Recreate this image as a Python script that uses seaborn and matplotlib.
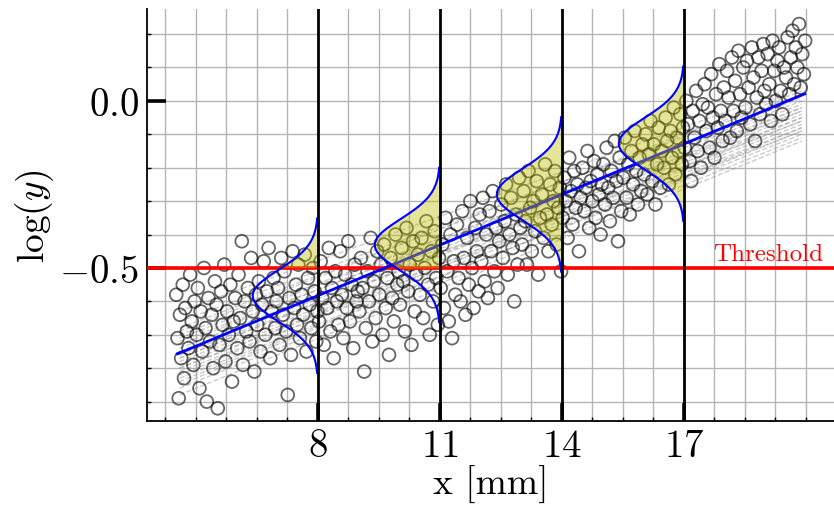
import numpy as np
import pandas as pd
import seaborn as sns
import matplotlib
matplotlib.use('Agg')
import matplotlib.pyplot as plt
from matplotlib.ticker import FixedLocator, MultipleLocator

# measured points (x in mm, log y), read strip by strip from the chart
scatter_x = [
    4.52, 4.55, 4.58, 4.61, 4.64, 4.68, 4.71, 4.74, 4.78, 4.82, 4.86, 4.90, 4.94, 4.97,
    5.02, 5.05, 5.09, 5.12, 5.16, 5.20, 5.24, 5.27, 5.31, 5.35, 5.39, 5.43, 5.47,
    5.51, 5.54, 5.58, 5.62, 5.66, 5.70, 5.73, 5.77, 5.81, 5.85, 5.89, 5.93, 5.97,
    6.02, 6.05, 6.09, 6.13, 6.16, 6.20, 6.24, 6.28, 6.32, 6.36, 6.40, 6.44, 6.48,
    6.51, 6.55, 6.59, 6.63, 6.67, 6.71, 6.75, 6.79, 6.83, 6.87, 6.91, 6.95, 6.98,
    7.02, 7.06, 7.10, 7.14, 7.18, 7.22, 7.26, 7.30, 7.34, 7.38, 7.42, 7.46, 7.49,
    7.52, 7.56, 7.60, 7.64, 7.68, 7.72, 7.76, 7.80, 7.84, 7.88, 7.92, 7.96, 7.99,
    8.03, 8.07, 8.11, 8.15, 8.19, 8.23, 8.27, 8.31, 8.35, 8.39, 8.43, 8.47,
    8.51, 8.55, 8.59, 8.63, 8.67, 8.71, 8.75, 8.79, 8.83, 8.87, 8.91, 8.95, 8.98,
    9.02, 9.06, 9.10, 9.14, 9.18, 9.22, 9.26, 9.30, 9.34, 9.38, 9.42, 9.46,
    9.51, 9.55, 9.59, 9.63, 9.67, 9.71, 9.75, 9.79, 9.83, 9.87, 9.91, 9.95, 9.98,
    10.02, 10.06, 10.10, 10.14, 10.18, 10.22, 10.26, 10.30, 10.34, 10.38, 10.42, 10.46,
    10.51, 10.55, 10.59, 10.63, 10.67, 10.71, 10.75, 10.79, 10.83, 10.87, 10.91, 10.95, 10.98,
    11.02, 11.06, 11.10, 11.14, 11.18, 11.22, 11.26, 11.30, 11.34, 11.38, 11.42, 11.46,
    11.51, 11.55, 11.59, 11.63, 11.67, 11.71, 11.75, 11.79, 11.83, 11.87, 11.91, 11.95, 11.98,
    12.02, 12.06, 12.10, 12.14, 12.18, 12.22, 12.26, 12.30, 12.34, 12.38, 12.42, 12.46,
    12.51, 12.55, 12.59, 12.63, 12.67, 12.71, 12.75, 12.79, 12.83, 12.87, 12.91, 12.95, 12.98,
    13.02, 13.06, 13.10, 13.14, 13.18, 13.22, 13.26, 13.30, 13.34, 13.38, 13.42, 13.46,
    13.51, 13.55, 13.59, 13.63, 13.67, 13.71, 13.75, 13.79, 13.83, 13.87, 13.91, 13.95, 13.98,
    14.02, 14.06, 14.10, 14.14, 14.18, 14.22, 14.26, 14.30, 14.34, 14.38, 14.42, 14.46,
    14.51, 14.55, 14.59, 14.63, 14.67, 14.71, 14.75, 14.79, 14.83, 14.87, 14.91, 14.95, 14.98,
    15.02, 15.06, 15.10, 15.14, 15.18, 15.22, 15.26, 15.30, 15.34, 15.38, 15.42, 15.46,
    15.51, 15.55, 15.59, 15.63, 15.67, 15.71, 15.75, 15.79, 15.83, 15.87, 15.91, 15.95, 15.98,
    16.02, 16.06, 16.10, 16.14, 16.18, 16.22, 16.26, 16.30, 16.34, 16.38, 16.42, 16.46,
    16.51, 16.55, 16.59, 16.63, 16.67, 16.71, 16.75, 16.79, 16.83, 16.87, 16.91, 16.95, 16.98,
    17.02, 17.06, 17.10, 17.14, 17.18, 17.22, 17.26, 17.30, 17.34, 17.38, 17.42, 17.46,
    17.51, 17.55, 17.59, 17.63, 17.67, 17.71, 17.75, 17.79, 17.83, 17.87, 17.91, 17.95, 17.98,
    18.02, 18.06, 18.10, 18.14, 18.18, 18.22, 18.26, 18.30, 18.34, 18.38, 18.42, 18.46,
    18.51, 18.55, 18.59, 18.63, 18.67, 18.71, 18.75, 18.79, 18.83, 18.87, 18.91, 18.95, 18.98,
    19.02, 19.06, 19.10, 19.14, 19.18, 19.22, 19.26, 19.30, 19.34, 19.38, 19.42, 19.46,
    19.51, 19.55, 19.59, 19.63, 19.67, 19.71, 19.75, 19.79, 19.83, 19.87, 19.91, 19.95, 19.98,
]
scatter_y = [
    -0.58, -0.71, -0.89, -0.64, -0.77, -0.55, -0.83, -0.62, -0.69, -0.74, -0.52, -0.66, -0.79, -0.60,
    -0.70, -0.56, -0.86, -0.63, -0.75, -0.50, -0.68, -0.90, -0.59, -0.72, -0.64, -0.80, -0.54,
    -0.61, -0.92, -0.73, -0.57, -0.67, -0.49, -0.78, -0.63, -0.70, -0.55, -0.84, -0.66, -0.59,
    -0.74, -0.52, -0.65, -0.42, -0.79, -0.60, -0.69, -0.56, -0.72, -0.47, -0.63, -0.81, -0.58,
    -0.67, -0.54, -0.75, -0.61, -0.48, -0.70, -0.57, -0.44, -0.77, -0.63, -0.53, -0.68, -0.60,
    -0.56, -0.73, -0.47, -0.64, -0.51, -0.69, -0.88, -0.59, -0.76, -0.45, -0.62, -0.55, -0.67,
    -0.49, -0.71, -0.58, -0.64, -0.46, -0.75, -0.53, -0.61, -0.68, -0.50, -0.57, -0.72, -0.63,
    -0.66, -0.48, -0.59, -0.73, -0.53, -0.62, -0.44, -0.69, -0.56, -0.77, -0.51, -0.60,
    -0.67, -0.45, -0.58, -0.71, -0.52, -0.62, -0.42, -0.66, -0.55, -0.74, -0.49, -0.60, -0.57,
    -0.63, -0.47, -0.56, -0.81, -0.68, -0.51, -0.60, -0.41, -0.72, -0.54, -0.65, -0.45,
    -0.58, -0.49, -0.70, -0.43, -0.62, -0.53, -0.76, -0.47, -0.59, -0.66, -0.40, -0.55, -0.51,
    -0.61, -0.44, -0.54, -0.69, -0.38, -0.57, -0.49, -0.73, -0.42, -0.63, -0.52, -0.46,
    -0.58, -0.41, -0.65, -0.50, -0.36, -0.55, -0.70, -0.45, -0.60, -0.39, -0.53, -0.67, -0.47,
    -0.56, -0.43, -0.62, -0.35, -0.51, -0.66, -0.40, -0.71, -0.48, -0.58, -0.37, -0.53,
    -0.60, -0.33, -0.47, -0.64, -0.41, -0.55, -0.30, -0.50, -0.62, -0.38, -0.45, -0.57, -0.34,
    -0.48, -0.29, -0.54, -0.40, -0.59, -0.33, -0.45, -0.27, -0.51, -0.38, -0.56, -0.42,
    -0.31, -0.47, -0.36, -0.25, -0.52, -0.40, -0.29, -0.44, -0.60, -0.34, -0.49, -0.23, -0.38,
    -0.43, -0.27, -0.36, -0.49, -0.21, -0.32, -0.45, -0.30, -0.39, -0.24, -0.52, -0.35,
    -0.28, -0.41, -0.19, -0.34, -0.45, -0.25, -0.37, -0.30, -0.21, -0.43, -0.32, -0.26, -0.51,
    -0.35, -0.23, -0.30, -0.41, -0.17, -0.27, -0.37, -0.21, -0.32, -0.25, -0.45, -0.29,
    -0.20, -0.33, -0.26, -0.15, -0.38, -0.24, -0.30, -0.18, -0.35, -0.22, -0.28, -0.40, -0.25,
    -0.19, -0.31, -0.14, -0.26, -0.36, -0.21, -0.29, -0.12, -0.24, -0.42, -0.17, -0.33,
    -0.23, -0.11, -0.29, -0.19, -0.34, -0.15, -0.25, -0.09, -0.21, -0.31, -0.17, -0.27, -0.13,
    -0.22, -0.10, -0.28, -0.16, -0.06, -0.24, -0.13, -0.31, -0.19, -0.08, -0.26, -0.15,
    -0.20, -0.05, -0.12, -0.25, -0.09, -0.17, -0.02, -0.22, -0.11, -0.15, -0.04, -0.19, -0.08,
    -0.14, 0.00, -0.07, -0.18, -0.24, -0.03, -0.11, 0.03, -0.15, -0.06, -0.20, -0.01,
    0.05, -0.09, -0.02, -0.14, 0.08, -0.05, -0.17, 0.02, -0.08, 0.11, -0.03, -0.12, 0.04,
    -0.06, 0.09, 0.01, -0.11, 0.13, -0.03, 0.06, -0.09, 0.15, 0.02, -0.05, 0.10,
    -0.02, 0.12, 0.04, -0.07, 0.16, 0.07, -0.12, 0.01, 0.13, -0.04, 0.09, 0.17, 0.03,
    -0.01, 0.14, 0.05, -0.06, 0.18, 0.09, 0.00, 0.12, 0.16, 0.03, -0.04, 0.10,
    0.07, 0.19, 0.02, 0.13, 0.21, 0.05, 0.16, 0.10, 0.23, 0.04, 0.14, 0.08, 0.18,
]

# mean regression line, end points
fit_x = [4.55, 19.97]
fit_y = [-0.757, 0.021]

# dashed posterior draws: value at the left and right end
sample_x = [4.6, 19.9]
sample_left = [-0.63, -0.66, -0.68, -0.70, -0.71, -0.72, -0.74, -0.75, -0.76, -0.77, -0.78, -0.79,
               -0.80, -0.81, -0.82, -0.83, -0.85, -0.86, -0.88, -0.73, -0.69, -0.77, -0.80, -0.84]
sample_right = [0.05, 0.02, 0.03, -0.01, 0.00, -0.02, -0.03, -0.04, -0.05, -0.03, -0.06, -0.07,
                -0.08, -0.09, -0.05, -0.10, -0.08, -0.11, -0.12, 0.01, 0.04, -0.02, -0.06, -0.09]

# slices with the predictive gaussians
cut_x = [8, 11, 14, 17]
cut_mean = [-0.583, -0.431, -0.280, -0.128]
cut_sigma = 0.077
peak_width = 1.6
threshold = -0.5

plt.rcParams['font.family'] = 'serif'
plt.rcParams['font.serif'] = ['cmr10', 'DejaVu Serif']
plt.rcParams['mathtext.fontset'] = 'cm'
plt.rcParams['axes.formatter.use_mathtext'] = True
plt.rcParams['axes.unicode_minus'] = True

fig = plt.figure(figsize=(8.34, 5.10), dpi=100)
ax = fig.add_axes([147/834, 88/510, 687/834, 412/510])

draws = pd.DataFrame({
    'draw': np.repeat(np.arange(len(sample_left)), 2),
    'x': np.tile(sample_x, len(sample_left)),
    'y': np.column_stack([sample_left, sample_right]).ravel(),
})
sns.lineplot(data=draws, x='x', y='y', units='draw', estimator=None, ax=ax,
             color='#999999', lw=1, ls='--', alpha=0.5, zorder=2)

sns.scatterplot(x=scatter_x, y=scatter_y, ax=ax, marker='o', s=85,
                facecolor='none', edgecolor='black', linewidth=1.3, alpha=0.6, zorder=3)

sns.lineplot(x=fit_x, y=fit_y, ax=ax, color='blue', lw=2.0, zorder=5)

ax.axhline(threshold, color='red', lw=2.6, zorder=4)
ax.text(20.42, threshold + 0.008, 'Threshold', color='red', fontsize=18,
        ha='right', va='bottom', zorder=10)

for x0, mu in zip(cut_x, cut_mean):
    yy = np.linspace(mu - 3 * cut_sigma, mu + 3 * cut_sigma, 300)
    xx = x0 - peak_width * np.exp(-0.5 * ((yy - mu) / cut_sigma) ** 2)
    ax.fill_betweenx(yy, xx, x0, where=yy >= threshold, interpolate=True,
                     color='y', alpha=0.4, lw=0, zorder=7)
    ax.plot(xx, yy, color='blue', lw=1.5, zorder=8)
    ax.axvline(x0, color='black', lw=2.0, zorder=9)

ax.set_xlim(3.8, 20.69)
ax.set_ylim(-0.958, 0.275)

ax.xaxis.set_major_locator(FixedLocator(cut_x))
ax.xaxis.set_minor_locator(FixedLocator(np.arange(4.25, 20.7, 0.75)))
ax.yaxis.set_major_locator(MultipleLocator(0.5))
ax.yaxis.set_minor_locator(MultipleLocator(0.1))

ax.grid(True, which='both', color='#b5b5b5', lw=1.0)
ax.set_axisbelow(True)

for side in ['top', 'right']:
    ax.spines[side].set_visible(False)
for side in ['left', 'bottom']:
    ax.spines[side].set_linewidth(1.3)

ax.tick_params(which='major', direction='in', length=13.5, width=2.6, labelsize=28)
ax.tick_params(axis='x', which='major', pad=5)
ax.tick_params(axis='y', which='major', pad=6)
ax.tick_params(which='minor', direction='in', length=3, width=1.0)
ax.tick_params(top=False, right=False, which='both')

ax.set_xlabel('x [mm]', fontsize=27, labelpad=1)
ax.set_ylabel(r'$\log(y)$', fontsize=27, labelpad=2)

fig.savefig('out.png', dpi=100)
